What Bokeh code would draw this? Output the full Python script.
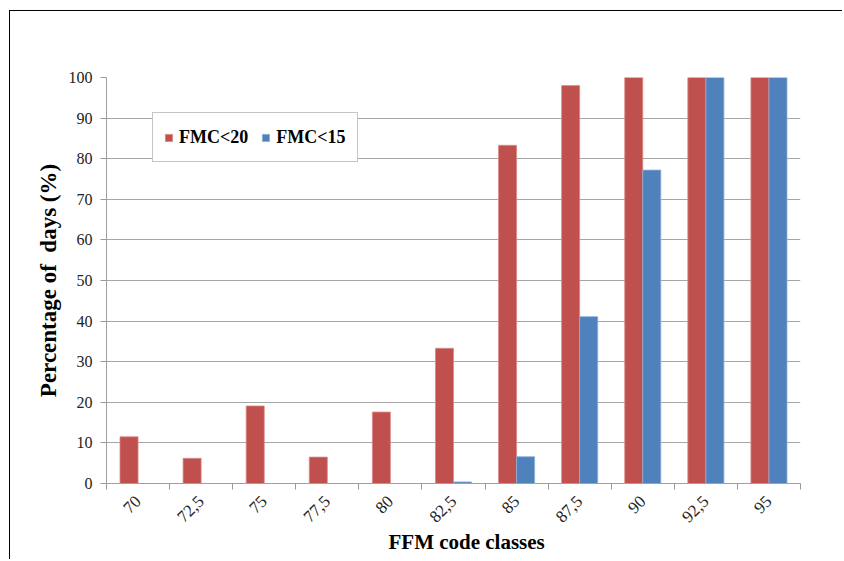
import math
from bokeh.plotting import figure
from bokeh.models import ColumnDataSource, FixedTicker, Legend, LegendItem, Title
from bokeh.transform import dodge
from bokeh.embed import file_html
from bokeh.resources import INLINE

classes = ["70", "72,5", "75", "77,5", "80", "82,5", "85", "87,5", "90", "92,5", "95"]
fmc20 = [11.5, 6.2, 19.1, 6.5, 17.6, 33.3, 83.3, 98.0, 100.0, 100.0, 100.0]
fmc15 = [0.0, 0.0, 0.0, 0.0, 0.0, 0.4, 6.6, 41.1, 77.2, 100.0, 100.0]
series_names = ["FMC<20", "FMC<15"]
y_ticks = list(range(0, 101, 10))
x_title = "FFM code classes"
y_title = "Percentage of\u00a0 days (%)"

RED = "#C0504D"
BLUE = "#4F81BD"
SERIF = "Liberation Serif"

n = len(classes)
pos = [i + 0.5 for i in range(n)]
src = ColumnDataSource(dict(pos=pos, fmc20=fmc20, fmc15=fmc15, cls=classes))

p = figure(width=833, height=549, output_backend="svg", toolbar_location=None,
           x_range=(0, n), y_range=(0, 100),
           min_border_left=96, min_border_right=43, min_border_top=66, min_border_bottom=77,
           styles={"border-top": "1.5px solid black", "border-left": "1.5px solid black",
                   "margin-top": "10px", "margin-left": "9px"})
p.outline_line_color = None
p.background_fill_color = "white"
p.border_fill_color = "white"

bw = 0.286
r1 = p.vbar(x=dodge("pos", -0.143, range=p.x_range), top="fmc20", width=bw, source=src,
            fill_color=RED, line_color="#D88A88", line_width=0.8)
r2 = p.vbar(x=dodge("pos", 0.143, range=p.x_range), top="fmc15", width=bw, source=src,
            fill_color=BLUE, line_color="#8FB0D8", line_width=0.8)

# x axis
p.xaxis.ticker = FixedTicker(ticks=pos, minor_ticks=list(range(n + 1)))
p.xaxis.major_label_overrides = {pos[i]: classes[i] for i in range(n)}
p.xaxis.major_label_orientation = math.pi / 4
p.xaxis.major_tick_in = 0
p.xaxis.major_tick_out = 0
p.xaxis.minor_tick_in = 0
p.xaxis.minor_tick_out = 6
p.xaxis.minor_tick_line_color = "#999999"
p.xaxis.axis_line_color = "#A0A0A0"
p.xaxis.major_label_text_font = SERIF
p.xaxis.major_label_text_font_size = "17px"
p.xaxis.major_label_text_color = "#222222"
p.xaxis.major_label_standoff = 9

# y axis
p.yaxis.ticker = FixedTicker(ticks=y_ticks)
p.yaxis.minor_tick_line_color = None
p.yaxis.major_tick_in = 0
p.yaxis.major_tick_out = 6
p.yaxis.major_tick_line_color = "#999999"
p.yaxis.axis_line_color = "#A0A0A0"
p.yaxis.major_label_text_font = SERIF
p.yaxis.major_label_text_font_size = "16px"
p.yaxis.major_label_text_color = "#222222"
p.yaxis.major_label_standoff = 8

# axis titles (slightly off-centre, as in the original)
p.add_layout(Title(text=x_title, align="left", offset=282, standoff=-5,
                   text_font=SERIF, text_font_style="bold", text_font_size="21px",
                   text_color="black"), "below")
p.add_layout(Title(text=y_title, align="center", offset=6, standoff=10,
                   text_font=SERIF, text_font_style="bold", text_font_size="23px",
                   text_color="black"), "left")

p.xgrid.grid_line_color = None
p.ygrid.grid_line_color = "#A6A6A6"
p.ygrid.grid_line_width = 1

legend = Legend(items=[LegendItem(label=series_names[0], renderers=[r1]),
                       LegendItem(label=series_names[1], renderers=[r2])],
                location=(46, 321), orientation="horizontal",
                label_text_font=SERIF, label_text_font_style="bold",
                label_text_font_size="18px", label_text_color="black",
                glyph_width=9, glyph_height=9, spacing=13, padding=11,
                label_height=26, label_standoff=6,
                border_line_color="#8C8C8C", border_line_width=1,
                background_fill_color="white", background_fill_alpha=1)
p.add_layout(legend, "center")

open("out.html", "w").write(file_html(p, INLINE))
